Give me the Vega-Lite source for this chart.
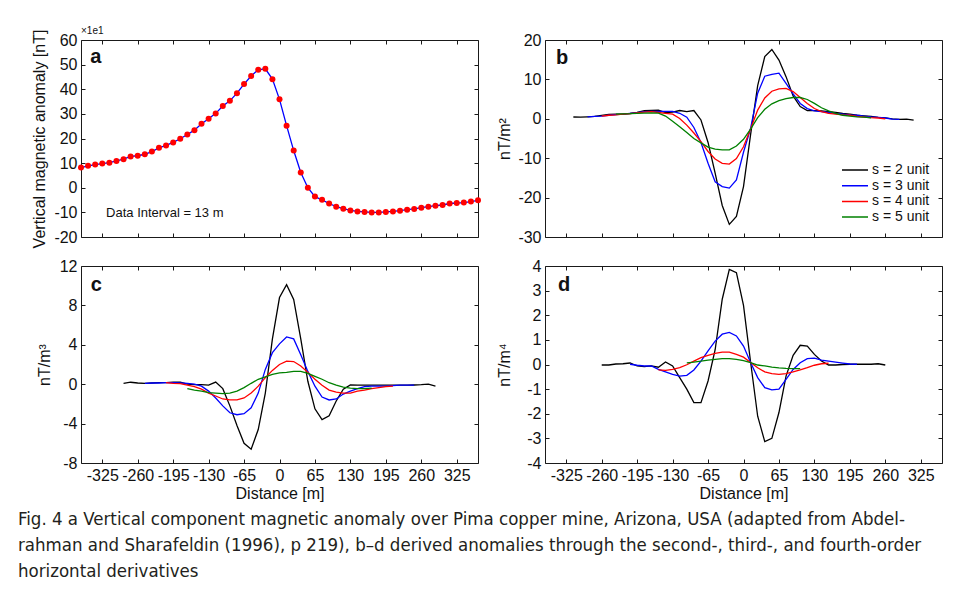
{
  "$schema": "https://vega.github.io/schema/vega-lite/v6.json",
  "autosize": {"type": "pad"},
  "padding": {"left": 18, "top": 25, "right": 5, "bottom": 20},
  "background": "white",
  "config": {
    "view": {"stroke": "#1a1a1a", "strokeWidth": 1},
    "axis": {
      "domain": false, "grid": false, "tickColor": "#1a1a1a", "tickSize": -4, "tickWidth": 1,
      "labelFont": "Liberation Sans", "labelFontSize": 16, "labelColor": "#111", "labelPadding": 8,
      "labelOverlap": false, "labelBound": false, "labelFlush": false,
      "titleFont": "Liberation Sans", "titleFontSize": 16, "titleFontWeight": "normal", "titleColor": "#111"
    },
    "text": {"font": "Liberation Sans", "color": "#111"}
  },
  "title": {
    "text": [
      "Fig. 4  a Vertical component magnetic anomaly over Pima copper mine, Arizona, USA (adapted from Abdel-",
      "rahman and Sharafeldin (1996), p 219), b–d derived anomalies through the second-, third-, and fourth-order",
      "horizontal derivatives"
    ],
    "orient": "bottom", "anchor": "start", "frame": "group", "dx": -63, "offset": 8,
    "font": "DejaVu Sans Condensed, Liberation Sans Narrow, Open Sans, sans-serif", "fontSize": 18.5, "fontWeight": "normal", "color": "#231f20", "lineHeight": 26, "baseline": "top"
  },
  "datasets": {
    "one": [{}],
    "a": [
      {"dist": -364, "val": 8.2}, {"dist": -351, "val": 8.9}, {"dist": -338, "val": 9.4}, {"dist": -325, "val": 9.8},
      {"dist": -312, "val": 10.2}, {"dist": -299, "val": 10.9}, {"dist": -286, "val": 11.6}, {"dist": -273, "val": 12.7},
      {"dist": -260, "val": 13.0}, {"dist": -247, "val": 13.6}, {"dist": -234, "val": 14.7}, {"dist": -221, "val": 16.2},
      {"dist": -208, "val": 17.2}, {"dist": -195, "val": 18.4}, {"dist": -182, "val": 19.9}, {"dist": -169, "val": 21.6},
      {"dist": -156, "val": 23.4}, {"dist": -143, "val": 26.0}, {"dist": -130, "val": 28.0}, {"dist": -117, "val": 30.2},
      {"dist": -104, "val": 33.2}, {"dist": -91, "val": 35.3}, {"dist": -78, "val": 38.4}, {"dist": -65, "val": 42.1},
      {"dist": -52, "val": 45.4}, {"dist": -39, "val": 47.9}, {"dist": -26, "val": 48.3}, {"dist": -13, "val": 44.1},
      {"dist": 0, "val": 35.9}, {"dist": 13, "val": 25.2}, {"dist": 26, "val": 15.1}, {"dist": 39, "val": 6.2},
      {"dist": 52, "val": 0.0}, {"dist": 65, "val": -3.6}, {"dist": 78, "val": -4.9}, {"dist": 91, "val": -6.4},
      {"dist": 104, "val": -7.7}, {"dist": 117, "val": -8.5}, {"dist": 130, "val": -9.2}, {"dist": 143, "val": -9.6},
      {"dist": 156, "val": -9.8}, {"dist": 169, "val": -10.0}, {"dist": 182, "val": -10.0}, {"dist": 195, "val": -9.8},
      {"dist": 208, "val": -9.6}, {"dist": 221, "val": -9.3}, {"dist": 234, "val": -8.9}, {"dist": 247, "val": -8.6},
      {"dist": 260, "val": -8.1}, {"dist": 273, "val": -7.7}, {"dist": 286, "val": -7.3}, {"dist": 299, "val": -7.0},
      {"dist": 312, "val": -6.4}, {"dist": 325, "val": -6.2}, {"dist": 338, "val": -6.0}, {"dist": 351, "val": -5.6},
      {"dist": 364, "val": -5.1}
    ],
    "b": [
      {"s": 2, "dist": -312, "val": 0.46}, {"s": 2, "dist": -299, "val": 0.4}, {"s": 2, "dist": -286, "val": 0.5}, {"s": 2, "dist": -273, "val": 0.6},
      {"s": 2, "dist": -260, "val": 0.85}, {"s": 2, "dist": -247, "val": 1.1}, {"s": 2, "dist": -234, "val": 1.2}, {"s": 2, "dist": -221, "val": 1.2},
      {"s": 2, "dist": -208, "val": 1.35}, {"s": 2, "dist": -195, "val": 1.6}, {"s": 2, "dist": -182, "val": 2.1}, {"s": 2, "dist": -169, "val": 2.15},
      {"s": 2, "dist": -156, "val": 2.2}, {"s": 2, "dist": -143, "val": 1.6}, {"s": 2, "dist": -130, "val": 1.7}, {"s": 2, "dist": -117, "val": 2.1},
      {"s": 2, "dist": -104, "val": 1.8}, {"s": 2, "dist": -91, "val": 2.1}, {"s": 2, "dist": -78, "val": -0.3}, {"s": 2, "dist": -65, "val": -6.0},
      {"s": 2, "dist": -52, "val": -13.8}, {"s": 2, "dist": -39, "val": -22.0}, {"s": 2, "dist": -26, "val": -26.8}, {"s": 2, "dist": -13, "val": -24.8},
      {"s": 2, "dist": 0, "val": -17.2}, {"s": 2, "dist": 13, "val": -4.0}, {"s": 2, "dist": 26, "val": 8.4}, {"s": 2, "dist": 39, "val": 15.8},
      {"s": 2, "dist": 52, "val": 17.6}, {"s": 2, "dist": 65, "val": 14.9}, {"s": 2, "dist": 78, "val": 10.7}, {"s": 2, "dist": 91, "val": 5.8},
      {"s": 2, "dist": 104, "val": 3.1}, {"s": 2, "dist": 117, "val": 2.1}, {"s": 2, "dist": 130, "val": 2.1}, {"s": 2, "dist": 143, "val": 2.0},
      {"s": 2, "dist": 156, "val": 1.8}, {"s": 2, "dist": 169, "val": 1.6}, {"s": 2, "dist": 182, "val": 1.35}, {"s": 2, "dist": 195, "val": 1.2},
      {"s": 2, "dist": 208, "val": 0.9}, {"s": 2, "dist": 221, "val": 0.75}, {"s": 2, "dist": 234, "val": 0.6}, {"s": 2, "dist": 247, "val": 0.35},
      {"s": 2, "dist": 260, "val": 0.25}, {"s": 2, "dist": 273, "val": 0.0}, {"s": 2, "dist": 286, "val": -0.15}, {"s": 2, "dist": 299, "val": -0.1},
      {"s": 2, "dist": 312, "val": -0.35},
      {"s": 3, "dist": -286, "val": 0.5}, {"s": 3, "dist": -273, "val": 0.6}, {"s": 3, "dist": -260, "val": 0.7}, {"s": 3, "dist": -247, "val": 0.9},
      {"s": 3, "dist": -234, "val": 1.05}, {"s": 3, "dist": -221, "val": 1.2}, {"s": 3, "dist": -208, "val": 1.4}, {"s": 3, "dist": -195, "val": 1.55},
      {"s": 3, "dist": -182, "val": 1.8}, {"s": 3, "dist": -169, "val": 1.9}, {"s": 3, "dist": -156, "val": 1.9}, {"s": 3, "dist": -143, "val": 1.9},
      {"s": 3, "dist": -130, "val": 1.9}, {"s": 3, "dist": -117, "val": 1.4}, {"s": 3, "dist": -104, "val": 0.4}, {"s": 3, "dist": -91, "val": -2.2},
      {"s": 3, "dist": -78, "val": -6.0}, {"s": 3, "dist": -65, "val": -11.3}, {"s": 3, "dist": -52, "val": -16.0}, {"s": 3, "dist": -39, "val": -17.2},
      {"s": 3, "dist": -26, "val": -17.6}, {"s": 3, "dist": -13, "val": -15.5}, {"s": 3, "dist": 0, "val": -8.5}, {"s": 3, "dist": 13, "val": -2.4},
      {"s": 3, "dist": 26, "val": 6.5}, {"s": 3, "dist": 39, "val": 10.8}, {"s": 3, "dist": 52, "val": 11.3}, {"s": 3, "dist": 65, "val": 11.6},
      {"s": 3, "dist": 78, "val": 9.0}, {"s": 3, "dist": 91, "val": 6.3}, {"s": 3, "dist": 104, "val": 3.9}, {"s": 3, "dist": 117, "val": 2.6},
      {"s": 3, "dist": 130, "val": 2.0}, {"s": 3, "dist": 143, "val": 1.8}, {"s": 3, "dist": 156, "val": 1.6}, {"s": 3, "dist": 169, "val": 1.35},
      {"s": 3, "dist": 182, "val": 1.2}, {"s": 3, "dist": 195, "val": 1.0}, {"s": 3, "dist": 208, "val": 0.9}, {"s": 3, "dist": 221, "val": 0.7},
      {"s": 3, "dist": 234, "val": 0.5}, {"s": 3, "dist": 247, "val": 0.35}, {"s": 3, "dist": 260, "val": 0.2}, {"s": 3, "dist": 273, "val": -0.1},
      {"s": 3, "dist": 286, "val": -0.15},
      {"s": 4, "dist": -260, "val": 0.7}, {"s": 4, "dist": -247, "val": 0.9}, {"s": 4, "dist": -234, "val": 1.0}, {"s": 4, "dist": -221, "val": 1.2},
      {"s": 4, "dist": -208, "val": 1.3}, {"s": 4, "dist": -195, "val": 1.5}, {"s": 4, "dist": -182, "val": 1.7}, {"s": 4, "dist": -169, "val": 1.8},
      {"s": 4, "dist": -156, "val": 1.6}, {"s": 4, "dist": -143, "val": 1.4}, {"s": 4, "dist": -130, "val": 1.2}, {"s": 4, "dist": -117, "val": 0.1},
      {"s": 4, "dist": -104, "val": -1.6}, {"s": 4, "dist": -91, "val": -3.6}, {"s": 4, "dist": -78, "val": -5.8}, {"s": 4, "dist": -65, "val": -8.3},
      {"s": 4, "dist": -52, "val": -10.2}, {"s": 4, "dist": -39, "val": -11.3}, {"s": 4, "dist": -26, "val": -11.5}, {"s": 4, "dist": -13, "val": -10.1},
      {"s": 4, "dist": 0, "val": -7.1}, {"s": 4, "dist": 13, "val": -2.6}, {"s": 4, "dist": 26, "val": 2.2}, {"s": 4, "dist": 39, "val": 5.3},
      {"s": 4, "dist": 52, "val": 7.0}, {"s": 4, "dist": 65, "val": 7.6}, {"s": 4, "dist": 78, "val": 7.7}, {"s": 4, "dist": 91, "val": 6.9},
      {"s": 4, "dist": 104, "val": 5.4}, {"s": 4, "dist": 117, "val": 3.9}, {"s": 4, "dist": 130, "val": 2.6}, {"s": 4, "dist": 143, "val": 1.8},
      {"s": 4, "dist": 156, "val": 1.4}, {"s": 4, "dist": 169, "val": 1.2}, {"s": 4, "dist": 182, "val": 1.0}, {"s": 4, "dist": 195, "val": 0.9},
      {"s": 4, "dist": 208, "val": 0.6}, {"s": 4, "dist": 221, "val": 0.45}, {"s": 4, "dist": 234, "val": 0.3}, {"s": 4, "dist": 247, "val": 0.2},
      {"s": 4, "dist": 260, "val": 0.0},
      {"s": 5, "dist": -234, "val": 1.2}, {"s": 5, "dist": -221, "val": 1.25}, {"s": 5, "dist": -208, "val": 1.3}, {"s": 5, "dist": -195, "val": 1.4},
      {"s": 5, "dist": -182, "val": 1.45}, {"s": 5, "dist": -169, "val": 1.5}, {"s": 5, "dist": -156, "val": 1.45}, {"s": 5, "dist": -143, "val": 0.7},
      {"s": 5, "dist": -130, "val": -0.6}, {"s": 5, "dist": -117, "val": -2.0}, {"s": 5, "dist": -104, "val": -3.5}, {"s": 5, "dist": -91, "val": -5.0},
      {"s": 5, "dist": -78, "val": -6.1}, {"s": 5, "dist": -65, "val": -7.2}, {"s": 5, "dist": -52, "val": -7.7}, {"s": 5, "dist": -39, "val": -7.9},
      {"s": 5, "dist": -26, "val": -7.9}, {"s": 5, "dist": -13, "val": -6.9}, {"s": 5, "dist": 0, "val": -5.2}, {"s": 5, "dist": 13, "val": -2.6},
      {"s": 5, "dist": 26, "val": 0.3}, {"s": 5, "dist": 39, "val": 2.4}, {"s": 5, "dist": 52, "val": 3.8}, {"s": 5, "dist": 65, "val": 4.6},
      {"s": 5, "dist": 78, "val": 5.1}, {"s": 5, "dist": 91, "val": 5.4}, {"s": 5, "dist": 104, "val": 5.4}, {"s": 5, "dist": 117, "val": 4.9},
      {"s": 5, "dist": 130, "val": 3.9}, {"s": 5, "dist": 143, "val": 2.8}, {"s": 5, "dist": 156, "val": 2.0}, {"s": 5, "dist": 169, "val": 1.4},
      {"s": 5, "dist": 182, "val": 0.9}, {"s": 5, "dist": 195, "val": 0.7}, {"s": 5, "dist": 208, "val": 0.5}, {"s": 5, "dist": 221, "val": 0.45},
      {"s": 5, "dist": 234, "val": 0.25}
    ],
    "c": [
      {"s": 2, "dist": -286, "val": 0.09}, {"s": 2, "dist": -273, "val": 0.2}, {"s": 2, "dist": -260, "val": 0.12}, {"s": 2, "dist": -247, "val": 0.09},
      {"s": 2, "dist": -234, "val": 0.12}, {"s": 2, "dist": -221, "val": 0.15}, {"s": 2, "dist": -208, "val": 0.15}, {"s": 2, "dist": -195, "val": 0.2},
      {"s": 2, "dist": -182, "val": 0.22}, {"s": 2, "dist": -169, "val": 0.0}, {"s": 2, "dist": -156, "val": -0.05}, {"s": 2, "dist": -143, "val": -0.05},
      {"s": 2, "dist": -130, "val": -0.1}, {"s": 2, "dist": -117, "val": 0.22}, {"s": 2, "dist": -104, "val": -0.45}, {"s": 2, "dist": -91, "val": -2.2},
      {"s": 2, "dist": -78, "val": -4.2}, {"s": 2, "dist": -65, "val": -6.0}, {"s": 2, "dist": -52, "val": -6.6}, {"s": 2, "dist": -39, "val": -4.6},
      {"s": 2, "dist": -26, "val": -0.9}, {"s": 2, "dist": -13, "val": 4.6}, {"s": 2, "dist": 0, "val": 8.8}, {"s": 2, "dist": 13, "val": 10.1},
      {"s": 2, "dist": 26, "val": 8.6}, {"s": 2, "dist": 39, "val": 4.6}, {"s": 2, "dist": 52, "val": 0.3}, {"s": 2, "dist": 65, "val": -2.5},
      {"s": 2, "dist": 78, "val": -3.6}, {"s": 2, "dist": 91, "val": -3.2}, {"s": 2, "dist": 104, "val": -1.7}, {"s": 2, "dist": 117, "val": -0.5},
      {"s": 2, "dist": 130, "val": -0.08}, {"s": 2, "dist": 143, "val": -0.1}, {"s": 2, "dist": 156, "val": -0.1}, {"s": 2, "dist": 169, "val": -0.1},
      {"s": 2, "dist": 182, "val": -0.1}, {"s": 2, "dist": 195, "val": -0.1}, {"s": 2, "dist": 208, "val": -0.1}, {"s": 2, "dist": 221, "val": -0.1},
      {"s": 2, "dist": 234, "val": -0.1}, {"s": 2, "dist": 247, "val": -0.08}, {"s": 2, "dist": 260, "val": -0.05}, {"s": 2, "dist": 273, "val": 0.0},
      {"s": 2, "dist": 286, "val": -0.2},
      {"s": 3, "dist": -247, "val": 0.09}, {"s": 3, "dist": -234, "val": 0.12}, {"s": 3, "dist": -221, "val": 0.12}, {"s": 3, "dist": -208, "val": 0.15},
      {"s": 3, "dist": -195, "val": 0.15}, {"s": 3, "dist": -182, "val": 0.12}, {"s": 3, "dist": -169, "val": 0.09}, {"s": 3, "dist": -156, "val": 0.0},
      {"s": 3, "dist": -143, "val": -0.2}, {"s": 3, "dist": -130, "val": -0.7}, {"s": 3, "dist": -117, "val": -1.4}, {"s": 3, "dist": -104, "val": -2.2},
      {"s": 3, "dist": -91, "val": -2.9}, {"s": 3, "dist": -78, "val": -3.1}, {"s": 3, "dist": -65, "val": -3.0}, {"s": 3, "dist": -52, "val": -2.4},
      {"s": 3, "dist": -39, "val": -0.9}, {"s": 3, "dist": -26, "val": 1.5}, {"s": 3, "dist": -13, "val": 3.2}, {"s": 3, "dist": 0, "val": 4.1},
      {"s": 3, "dist": 13, "val": 4.8}, {"s": 3, "dist": 26, "val": 4.6}, {"s": 3, "dist": 39, "val": 3.0}, {"s": 3, "dist": 52, "val": 1.3},
      {"s": 3, "dist": 65, "val": -0.2}, {"s": 3, "dist": 78, "val": -1.3}, {"s": 3, "dist": 91, "val": -1.6}, {"s": 3, "dist": 104, "val": -1.5},
      {"s": 3, "dist": 117, "val": -1.0}, {"s": 3, "dist": 130, "val": -0.7}, {"s": 3, "dist": 143, "val": -0.45}, {"s": 3, "dist": 156, "val": -0.25},
      {"s": 3, "dist": 169, "val": -0.2}, {"s": 3, "dist": 182, "val": -0.2}, {"s": 3, "dist": 195, "val": -0.2}, {"s": 3, "dist": 208, "val": -0.15},
      {"s": 3, "dist": 221, "val": -0.1}, {"s": 3, "dist": 234, "val": -0.1}, {"s": 3, "dist": 247, "val": -0.1},
      {"s": 4, "dist": -208, "val": 0.15}, {"s": 4, "dist": -195, "val": 0.09}, {"s": 4, "dist": -182, "val": 0.05}, {"s": 4, "dist": -169, "val": -0.1},
      {"s": 4, "dist": -156, "val": -0.25}, {"s": 4, "dist": -143, "val": -0.5}, {"s": 4, "dist": -130, "val": -0.9}, {"s": 4, "dist": -117, "val": -1.2},
      {"s": 4, "dist": -104, "val": -1.5}, {"s": 4, "dist": -91, "val": -1.6}, {"s": 4, "dist": -78, "val": -1.6}, {"s": 4, "dist": -65, "val": -1.4},
      {"s": 4, "dist": -52, "val": -0.9}, {"s": 4, "dist": -39, "val": -0.2}, {"s": 4, "dist": -26, "val": 0.66}, {"s": 4, "dist": -13, "val": 1.4},
      {"s": 4, "dist": 0, "val": 2.0}, {"s": 4, "dist": 13, "val": 2.35}, {"s": 4, "dist": 26, "val": 2.3}, {"s": 4, "dist": 39, "val": 1.85},
      {"s": 4, "dist": 52, "val": 1.2}, {"s": 4, "dist": 65, "val": 0.5}, {"s": 4, "dist": 78, "val": -0.1}, {"s": 4, "dist": 91, "val": -0.6},
      {"s": 4, "dist": 104, "val": -0.8}, {"s": 4, "dist": 117, "val": -0.9}, {"s": 4, "dist": 130, "val": -0.9}, {"s": 4, "dist": 143, "val": -0.7},
      {"s": 4, "dist": 156, "val": -0.6}, {"s": 4, "dist": 169, "val": -0.45}, {"s": 4, "dist": 182, "val": -0.35}, {"s": 4, "dist": 195, "val": -0.25},
      {"s": 4, "dist": 208, "val": -0.2},
      {"s": 5, "dist": -169, "val": -0.45}, {"s": 5, "dist": -156, "val": -0.6}, {"s": 5, "dist": -143, "val": -0.7}, {"s": 5, "dist": -130, "val": -0.85},
      {"s": 5, "dist": -117, "val": -0.9}, {"s": 5, "dist": -104, "val": -0.95}, {"s": 5, "dist": -91, "val": -0.9}, {"s": 5, "dist": -78, "val": -0.7},
      {"s": 5, "dist": -65, "val": -0.35}, {"s": 5, "dist": -52, "val": 0.09}, {"s": 5, "dist": -39, "val": 0.5}, {"s": 5, "dist": -26, "val": 0.75},
      {"s": 5, "dist": -13, "val": 1.0}, {"s": 5, "dist": 0, "val": 1.15}, {"s": 5, "dist": 13, "val": 1.2}, {"s": 5, "dist": 26, "val": 1.3},
      {"s": 5, "dist": 39, "val": 1.3}, {"s": 5, "dist": 52, "val": 1.1}, {"s": 5, "dist": 65, "val": 0.8}, {"s": 5, "dist": 78, "val": 0.5},
      {"s": 5, "dist": 91, "val": 0.15}, {"s": 5, "dist": 104, "val": -0.1}, {"s": 5, "dist": 117, "val": -0.3}, {"s": 5, "dist": 130, "val": -0.4},
      {"s": 5, "dist": 143, "val": -0.45}, {"s": 5, "dist": 156, "val": -0.45}, {"s": 5, "dist": 169, "val": -0.4}
    ],
    "d": [
      {"s": 2, "dist": -260, "val": -0.02}, {"s": 2, "dist": -247, "val": -0.02}, {"s": 2, "dist": -234, "val": 0.02}, {"s": 2, "dist": -221, "val": 0.03},
      {"s": 2, "dist": -208, "val": 0.06}, {"s": 2, "dist": -195, "val": -0.06}, {"s": 2, "dist": -182, "val": -0.09}, {"s": 2, "dist": -169, "val": -0.06},
      {"s": 2, "dist": -156, "val": -0.11}, {"s": 2, "dist": -143, "val": 0.1}, {"s": 2, "dist": -130, "val": -0.06}, {"s": 2, "dist": -117, "val": -0.53},
      {"s": 2, "dist": -104, "val": -1.0}, {"s": 2, "dist": -91, "val": -1.55}, {"s": 2, "dist": -78, "val": -1.55}, {"s": 2, "dist": -65, "val": -0.67},
      {"s": 2, "dist": -52, "val": 0.6}, {"s": 2, "dist": -39, "val": 2.65}, {"s": 2, "dist": -26, "val": 3.86}, {"s": 2, "dist": -13, "val": 3.73},
      {"s": 2, "dist": 0, "val": 2.4}, {"s": 2, "dist": 13, "val": 0.1}, {"s": 2, "dist": 26, "val": -2.1}, {"s": 2, "dist": 39, "val": -3.13},
      {"s": 2, "dist": 52, "val": -3.0}, {"s": 2, "dist": 65, "val": -1.95}, {"s": 2, "dist": 78, "val": -0.47}, {"s": 2, "dist": 91, "val": 0.37},
      {"s": 2, "dist": 104, "val": 0.78}, {"s": 2, "dist": 117, "val": 0.75}, {"s": 2, "dist": 130, "val": 0.41}, {"s": 2, "dist": 143, "val": 0.14},
      {"s": 2, "dist": 156, "val": -0.02}, {"s": 2, "dist": 169, "val": -0.02}, {"s": 2, "dist": 182, "val": 0.0}, {"s": 2, "dist": 195, "val": 0.01},
      {"s": 2, "dist": 208, "val": 0.01}, {"s": 2, "dist": 221, "val": 0.01}, {"s": 2, "dist": 234, "val": 0.01}, {"s": 2, "dist": 247, "val": 0.03},
      {"s": 2, "dist": 260, "val": -0.02},
      {"s": 3, "dist": -208, "val": 0.01}, {"s": 3, "dist": -195, "val": -0.03}, {"s": 3, "dist": -182, "val": -0.06}, {"s": 3, "dist": -169, "val": -0.06},
      {"s": 3, "dist": -156, "val": -0.2}, {"s": 3, "dist": -143, "val": -0.3}, {"s": 3, "dist": -130, "val": -0.4}, {"s": 3, "dist": -117, "val": -0.47},
      {"s": 3, "dist": -104, "val": -0.44}, {"s": 3, "dist": -91, "val": -0.22}, {"s": 3, "dist": -78, "val": 0.14}, {"s": 3, "dist": -65, "val": 0.55},
      {"s": 3, "dist": -52, "val": 0.95}, {"s": 3, "dist": -39, "val": 1.23}, {"s": 3, "dist": -26, "val": 1.3}, {"s": 3, "dist": -13, "val": 1.16},
      {"s": 3, "dist": 0, "val": 0.75}, {"s": 3, "dist": 13, "val": 0.08}, {"s": 3, "dist": 26, "val": -0.53}, {"s": 3, "dist": 39, "val": -0.94},
      {"s": 3, "dist": 52, "val": -1.03}, {"s": 3, "dist": 65, "val": -1.0}, {"s": 3, "dist": 78, "val": -0.6}, {"s": 3, "dist": 91, "val": -0.2},
      {"s": 3, "dist": 104, "val": 0.07}, {"s": 3, "dist": 117, "val": 0.24}, {"s": 3, "dist": 130, "val": 0.26}, {"s": 3, "dist": 143, "val": 0.18},
      {"s": 3, "dist": 156, "val": 0.14}, {"s": 3, "dist": 169, "val": 0.1}, {"s": 3, "dist": 182, "val": 0.06}, {"s": 3, "dist": 195, "val": 0.02},
      {"s": 3, "dist": 208, "val": 0.01},
      {"s": 4, "dist": -156, "val": -0.22}, {"s": 4, "dist": -143, "val": -0.24}, {"s": 4, "dist": -130, "val": -0.2}, {"s": 4, "dist": -117, "val": -0.13},
      {"s": 4, "dist": -104, "val": -0.01}, {"s": 4, "dist": -91, "val": 0.14}, {"s": 4, "dist": -78, "val": 0.28}, {"s": 4, "dist": -65, "val": 0.37},
      {"s": 4, "dist": -52, "val": 0.45}, {"s": 4, "dist": -39, "val": 0.5}, {"s": 4, "dist": -26, "val": 0.5}, {"s": 4, "dist": -13, "val": 0.41},
      {"s": 4, "dist": 0, "val": 0.3}, {"s": 4, "dist": 13, "val": 0.08}, {"s": 4, "dist": 26, "val": -0.13}, {"s": 4, "dist": 39, "val": -0.3},
      {"s": 4, "dist": 52, "val": -0.37}, {"s": 4, "dist": 65, "val": -0.4}, {"s": 4, "dist": 78, "val": -0.37}, {"s": 4, "dist": 91, "val": -0.3},
      {"s": 4, "dist": 104, "val": -0.22}, {"s": 4, "dist": 117, "val": -0.13}, {"s": 4, "dist": 130, "val": -0.03}, {"s": 4, "dist": 143, "val": 0.03},
      {"s": 4, "dist": 156, "val": 0.05},
      {"s": 5, "dist": -104, "val": 0.07}, {"s": 5, "dist": -91, "val": 0.1}, {"s": 5, "dist": -78, "val": 0.14}, {"s": 5, "dist": -65, "val": 0.18},
      {"s": 5, "dist": -52, "val": 0.21}, {"s": 5, "dist": -39, "val": 0.24}, {"s": 5, "dist": -26, "val": 0.24}, {"s": 5, "dist": -13, "val": 0.21},
      {"s": 5, "dist": 0, "val": 0.16}, {"s": 5, "dist": 13, "val": 0.08}, {"s": 5, "dist": 26, "val": -0.02}, {"s": 5, "dist": 39, "val": -0.06},
      {"s": 5, "dist": 52, "val": -0.11}, {"s": 5, "dist": 65, "val": -0.14}, {"s": 5, "dist": 78, "val": -0.16}, {"s": 5, "dist": 91, "val": -0.17},
      {"s": 5, "dist": 104, "val": -0.17}
    ]
  },
  "columns": 2,
  "spacing": {"row": 29, "column": 67},
  "bounds": "flush",
  "resolve": {"scale": {"color": "independent"}, "legend": {"color": "independent"}},
  "concat": [
    {
      "width": 397, "height": 197,
      "layer": [
        {
          "data": {"name": "a"},
          "mark": {"type": "line", "color": "#0000ff", "strokeWidth": 1.3},
          "encoding": {
            "x": {"field": "dist", "type": "quantitative", "scale": {"domain": [-364, 364], "nice": false, "zero": false},
                  "axis": {"values": [-325, -260, -195, -130, -65, 0, 65, 130, 195, 260, 325], "labels": false, "title": null}},
            "y": {"field": "val", "type": "quantitative", "scale": {"domain": [-20, 60], "nice": false, "zero": false},
                  "axis": {"values": [-20, -10, 0, 10, 20, 30, 40, 50, 60], "title": "Vertical magnetic anomaly [nT]", "titlePadding": 6, "labelExpr": "'' + datum.value"}}
          }
        },
        {
          "data": {"name": "a"},
          "mark": {"type": "point", "filled": true, "color": "#ff0000", "size": 36, "opacity": 1},
          "encoding": {
            "x": {"field": "dist", "type": "quantitative", "scale": {"domain": [-364, 364], "nice": false, "zero": false},
                  "axis": {"orient": "top", "values": [-325, -260, -195, -130, -65, 0, 65, 130, 195, 260, 325], "labels": false, "title": null}},
            "y": {"field": "val", "type": "quantitative", "scale": {"domain": [-20, 60], "nice": false, "zero": false},
                  "axis": {"orient": "right", "values": [-20, -10, 0, 10, 20, 30, 40, 50, 60], "labels": false, "title": null}}
          }
        },
        {
          "data": {"name": "one"},
          "mark": {"type": "text", "fontWeight": "bold", "fontSize": 20, "align": "left", "baseline": "alphabetic"},
          "encoding": {"x": {"datum": -347, "type": "quantitative", "axis": null}, "y": {"datum": 50.7, "type": "quantitative", "axis": null}, "text": {"value": "a"}}
        },
        {
          "data": {"name": "one"},
          "mark": {"type": "text", "fontSize": 13, "align": "left", "baseline": "middle"},
          "encoding": {"x": {"datum": -318, "type": "quantitative", "axis": null}, "y": {"datum": -10.3, "type": "quantitative", "axis": null}, "text": {"value": "Data Interval = 13 m"}}
        },
        {
          "data": {"name": "one"},
          "mark": {"type": "text", "fontSize": 10, "align": "left", "baseline": "middle"},
          "encoding": {"x": {"datum": -364, "type": "quantitative", "axis": null}, "y": {"datum": 63.7, "type": "quantitative", "axis": null}, "text": {"value": "×1e1"}}
        }
      ],
      "resolve": {"axis": {"x": "independent", "y": "independent"}}
    },
    {
      "width": 397, "height": 197,
      "layer": [
        {
          "data": {"name": "b"},
          "mark": {"type": "line", "strokeWidth": 1.3},
          "encoding": {
            "x": {"field": "dist", "type": "quantitative", "scale": {"domain": [-364, 364], "nice": false, "zero": false},
                  "axis": {"values": [-325, -260, -195, -130, -65, 0, 65, 130, 195, 260, 325], "labels": false, "title": null}},
            "y": {"field": "val", "type": "quantitative", "scale": {"domain": [-30, 20], "nice": false, "zero": false},
                  "axis": {"values": [-30, -20, -10, 0, 10, 20], "title": "nT/m²", "titlePadding": 5, "labelExpr": "'' + datum.value"}},
            "color": {"field": "s", "type": "nominal", "scale": {"domain": [2, 3, 4, 5], "range": ["#000000", "#0000ff", "#ff0000", "#008000"]},
                      "legend": {"orient": "none", "legendX": 296, "legendY": 123, "title": null, "labelExpr": "'s = ' + datum.label + ' unit'",
                                 "symbolType": "stroke", "symbolSize": 676, "symbolStrokeWidth": 1.5, "labelFontSize": 14, "labelFont": "Liberation Sans",
                                 "labelColor": "#111", "clipHeight": 14, "rowPadding": 1.7, "padding": 0, "labelOffset": 3}}
          }
        },
        {
          "data": {"name": "b"},
          "mark": {"type": "point", "opacity": 0},
          "encoding": {
            "x": {"field": "dist", "type": "quantitative", "scale": {"domain": [-364, 364], "nice": false, "zero": false},
                  "axis": {"orient": "top", "values": [-325, -260, -195, -130, -65, 0, 65, 130, 195, 260, 325], "labels": false, "title": null}},
            "y": {"field": "val", "type": "quantitative", "scale": {"domain": [-30, 20], "nice": false, "zero": false},
                  "axis": {"orient": "right", "values": [-30, -20, -10, 0, 10, 20], "labels": false, "title": null}}
          }
        },
        {
          "data": {"name": "one"},
          "mark": {"type": "text", "fontWeight": "bold", "fontSize": 20, "align": "left", "baseline": "alphabetic"},
          "encoding": {"x": {"datum": -344, "type": "quantitative", "axis": null}, "y": {"datum": 13.9, "type": "quantitative", "axis": null}, "text": {"value": "b"}}
        }
      ],
      "resolve": {"axis": {"x": "independent", "y": "independent"}}
    },
    {
      "width": 397, "height": 197,
      "layer": [
        {
          "data": {"name": "c"},
          "mark": {"type": "line", "strokeWidth": 1.3},
          "encoding": {
            "x": {"field": "dist", "type": "quantitative", "scale": {"domain": [-364, 364], "nice": false, "zero": false},
                  "axis": {"values": [-325, -260, -195, -130, -65, 0, 65, 130, 195, 260, 325], "title": "Distance [m]", "titlePadding": 2, "labelExpr": "'' + datum.value"}},
            "y": {"field": "val", "type": "quantitative", "scale": {"domain": [-8, 12], "nice": false, "zero": false},
                  "axis": {"values": [-8, -4, 0, 4, 8, 12], "title": "nT/m³", "titlePadding": 7, "labelExpr": "'' + datum.value"}},
            "color": {"field": "s", "type": "nominal", "scale": {"domain": [2, 3, 4, 5], "range": ["#000000", "#0000ff", "#ff0000", "#008000"]}, "legend": null}
          }
        },
        {
          "data": {"name": "c"},
          "mark": {"type": "point", "opacity": 0},
          "encoding": {
            "x": {"field": "dist", "type": "quantitative", "scale": {"domain": [-364, 364], "nice": false, "zero": false},
                  "axis": {"orient": "top", "values": [-325, -260, -195, -130, -65, 0, 65, 130, 195, 260, 325], "labels": false, "title": null}},
            "y": {"field": "val", "type": "quantitative", "scale": {"domain": [-8, 12], "nice": false, "zero": false},
                  "axis": {"orient": "right", "values": [-8, -4, 0, 4, 8, 12], "labels": false, "title": null}}
          }
        },
        {
          "data": {"name": "one"},
          "mark": {"type": "text", "fontWeight": "bold", "fontSize": 20, "align": "left", "baseline": "alphabetic"},
          "encoding": {"x": {"datum": -346, "type": "quantitative", "axis": null}, "y": {"datum": 9.46, "type": "quantitative", "axis": null}, "text": {"value": "c"}}
        }
      ],
      "resolve": {"axis": {"x": "independent", "y": "independent"}}
    },
    {
      "width": 397, "height": 197,
      "layer": [
        {
          "data": {"name": "d"},
          "mark": {"type": "line", "strokeWidth": 1.3},
          "encoding": {
            "x": {"field": "dist", "type": "quantitative", "scale": {"domain": [-364, 364], "nice": false, "zero": false},
                  "axis": {"values": [-325, -260, -195, -130, -65, 0, 65, 130, 195, 260, 325], "title": "Distance [m]", "titlePadding": 2, "labelExpr": "'' + datum.value"}},
            "y": {"field": "val", "type": "quantitative", "scale": {"domain": [-4, 4], "nice": false, "zero": false},
                  "axis": {"values": [-4, -3, -2, -1, 0, 1, 2, 3, 4], "title": "nT/m⁴", "titlePadding": 14, "labelExpr": "'' + datum.value"}},
            "color": {"field": "s", "type": "nominal", "scale": {"domain": [2, 3, 4, 5], "range": ["#000000", "#0000ff", "#ff0000", "#008000"]}, "legend": null}
          }
        },
        {
          "data": {"name": "d"},
          "mark": {"type": "point", "opacity": 0},
          "encoding": {
            "x": {"field": "dist", "type": "quantitative", "scale": {"domain": [-364, 364], "nice": false, "zero": false},
                  "axis": {"orient": "top", "values": [-325, -260, -195, -130, -65, 0, 65, 130, 195, 260, 325], "labels": false, "title": null}},
            "y": {"field": "val", "type": "quantitative", "scale": {"domain": [-4, 4], "nice": false, "zero": false},
                  "axis": {"orient": "right", "values": [-4, -3, -2, -1, 0, 1, 2, 3, 4], "labels": false, "title": null}}
          }
        },
        {
          "data": {"name": "one"},
          "mark": {"type": "text", "fontWeight": "bold", "fontSize": 20, "align": "left", "baseline": "alphabetic"},
          "encoding": {"x": {"datum": -340, "type": "quantitative", "axis": null}, "y": {"datum": 2.98, "type": "quantitative", "axis": null}, "text": {"value": "d"}}
        }
      ],
      "resolve": {"axis": {"x": "independent", "y": "independent"}}
    }
  ]
}
